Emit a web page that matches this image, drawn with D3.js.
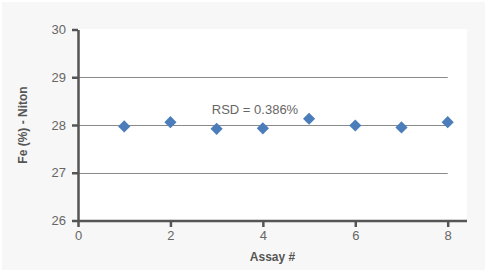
<!DOCTYPE html>
<html>
<head>
<meta charset="utf-8">
<script src="https://cdn.jsdelivr.net/npm/d3@7"></script>
<style>
  body { margin: 0; background: #fff; }
  svg { display: block; font-family: "Liberation Sans", Arial, sans-serif; }
  .tick text { fill: #666; font-size: 13px; }
  .axis-title { fill: #555; font-size: 12px; font-weight: bold; }
  .note { fill: #666; font-size: 13px; }
</style>
</head>
<body>
<div id="chart"></div>
<script>
// assay number vs Fe reading
var assays = [1, 2, 3, 4, 5, 6, 7, 8];
var feValues = [27.97, 28.06, 27.92, 27.93, 28.13, 27.99, 27.95, 28.06];
var yTicks = [26, 27, 28, 29, 30];
var xTicks = [0, 2, 4, 6, 8];
var gridValues = [27, 28, 29];
var rsdLabel = "RSD = 0.386%";
var rsdPos = [3.83, 28.24];

var width = 488, height = 273;

var svg = d3.select("#chart").append("svg")
    .attr("width", width)
    .attr("height", height);

// grey panel behind everything
svg.append("rect")
    .attr("x", 2).attr("y", 2)
    .attr("width", 483).attr("height", 268)
    .attr("fill", "#f7f7f7");

var x = d3.scaleLinear().domain([0, 8]).range([78, 447.7]);
var y = d3.scaleLinear().domain([26, 30]).range([220.5, 29.5]);

// white plot area
svg.append("rect")
    .attr("x", 78).attr("y", 29)
    .attr("width", 467 - 78).attr("height", 221 - 29)
    .attr("fill", "#fff");

// horizontal gridlines
svg.append("g")
    .selectAll("line")
    .data(gridValues)
    .enter().append("line")
    .attr("x1", x(0))
    .attr("x2", x(8))
    .attr("y1", function (d) { return Math.round(y(d)) + 0.5; })
    .attr("y2", function (d) { return Math.round(y(d)) + 0.5; })
    .attr("stroke", "#8a8a8a")
    .attr("stroke-width", 1);

// y axis
svg.append("g")
    .attr("transform", "translate(78,0)")
    .call(d3.axisLeft(y).tickValues(yTicks).tickFormat(d3.format("d"))
        .tickSize(6).tickSizeOuter(0).tickPadding(6));

// x axis
var xAxis = svg.append("g")
    .attr("transform", "translate(0,221)")
    .call(d3.axisBottom(x).tickValues(xTicks).tickFormat(d3.format("d"))
        .tickSize(6).tickSizeOuter(0).tickPadding(4));

xAxis.select(".domain").attr("d", "M78,0H467");

svg.selectAll(".domain")
    .attr("stroke", "#555")
    .attr("stroke-width", 2.5);
svg.selectAll(".tick line")
    .attr("stroke", "#555")
    .attr("stroke-width", 2.5);
svg.selectAll(".tick text")
    .attr("font-family", null)
    .attr("font-size", null);

// diamond markers
svg.append("g")
    .selectAll("rect")
    .data(assays)
    .enter().append("rect")
    .attr("x", -4.3)
    .attr("y", -4.3)
    .attr("width", 8.6)
    .attr("height", 8.6)
    .attr("fill", "#4a7dba")
    .attr("transform", function (d, i) {
        return "translate(" + x(d) + "," + y(feValues[i]) + ") rotate(45)";
    });

// RSD annotation
svg.append("text")
    .attr("class", "note")
    .attr("x", x(rsdPos[0]))
    .attr("y", y(rsdPos[1]))
    .attr("text-anchor", "middle")
    .text(rsdLabel);

// axis titles
svg.append("text")
    .attr("class", "axis-title")
    .attr("x", 272.5)
    .attr("y", 261)
    .attr("text-anchor", "middle")
    .text("Assay #");

svg.append("text")
    .attr("class", "axis-title")
    .attr("transform", "translate(27,125) rotate(-90)")
    .attr("text-anchor", "middle")
    .text("Fe (%) - Niton");
</script>
</body>
</html>
